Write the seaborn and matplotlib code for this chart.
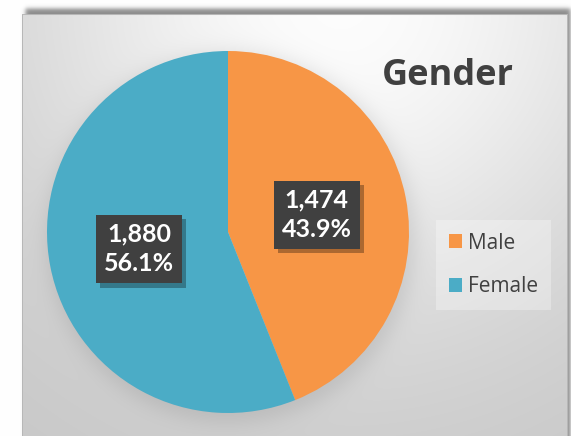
import numpy as np
import pandas as pd
import seaborn as sns
import matplotlib
matplotlib.use("Agg")
import matplotlib.pyplot as plt
import matplotlib.patheffects as pe

# ---- data ----
categories = ["Male", "Female"]
counts = [1474, 1880]
colors = ["#F79646", "#4BACC6"]
title = "Gender"

sns.set_theme(style="white")
plt.rcParams["font.family"] = ["Open Sans", "DejaVu Sans"]

W, H = 571, 436
fig = plt.figure(figsize=(W / 100, H / 100), dpi=100)

# ---- background (chart area with gradient, frame and shadows) ----
yy, xx = np.mgrid[0:H, 0:W].astype(float)
img = np.ones((H, W))
fx0, fy0, fx1 = 22, 15, 567
def soft_rect(x0, y0, x1, y1, w):
    sx = 0.5 * (np.tanh((xx - x0) / w) - np.tanh((xx - x1) / w))
    sy = 0.5 * (np.tanh((yy - y0) / w) - np.tanh((yy - y1) / w))
    return sx * sy
sh = soft_rect(25, 9, 570, 460, 2.5)
img = img * (1 - 0.45 * sh)
d = np.sqrt((xx - 340) ** 2 + (yy - 0) ** 2)
grad = 0.775 + 0.215 * np.exp(-(d / 330.0) ** 2)
cx, cy, R = 228, 234, 181
r = np.sqrt((xx - cx - 2) ** 2 + (yy - cy - 3) ** 2)
halo = 0.5 * (1 - np.tanh((r - R - 4) / 12.0))
grad = grad * (1 - 0.10 * halo)
inside = (xx >= fx0) & (xx <= fx1) & (yy >= fy0)
img = np.where(inside, grad, img)
border = inside & ((np.abs(xx - fx0) < 1) | (np.abs(xx - fx1) < 1) | (np.abs(yy - fy0) < 1))
img = np.where(border, 0.72, img)
rgb = np.dstack([img, img, img])

bg = fig.add_axes([0, 0, 1, 1])
bg.imshow(rgb, extent=(0, W, H, 0), aspect="auto", interpolation="bilinear")
bg.set_xlim(0, W)
bg.set_ylim(H, 0)
bg.axis("off")

# ---- pie ----
pcx, pcy, pr = 228, 232, 181
ax = fig.add_axes([(pcx - pr) / W, (H - pcy - pr) / H, 2 * pr / W, 2 * pr / H])
ax.set_facecolor("none")
wedges, _ = ax.pie(counts, colors=colors, startangle=90, counterclock=False,
                   wedgeprops=dict(linewidth=0))
ax.set_xlim(-1, 1)
ax.set_ylim(-1, 1)

total = sum(counts)
for w, c in zip(wedges, counts):
    ang = np.deg2rad((w.theta1 + w.theta2) / 2)
    x, y = 0.5 * np.cos(ang), 0.5 * np.sin(ang)
    label = f"{c:,}\n{100 * c / total:.1f}%"
    t = ax.text(x, y, label, ha="center", va="center",
                fontsize=18, fontweight="bold", family=["Lato", "DejaVu Sans"],
                color="white", linespacing=1.35,
                bbox=dict(boxstyle="square,pad=0.32", facecolor="#404040",
                          edgecolor="none"))
    t.get_bbox_patch().set_path_effects([
        pe.SimplePatchShadow(offset=(3, -3), shadow_rgbFace="black", alpha=0.3),
        pe.Normal()])

# ---- legend ----
leg = ax.legend(wedges, categories, loc="upper left",
                bbox_to_anchor=(436 / W, 1 - 220 / H), bbox_transform=fig.transFigure,
                borderaxespad=0,
                frameon=True, fancybox=False, facecolor="white", framealpha=0.3,
                edgecolor="none", fontsize=15, handlelength=0.65, handleheight=0.65,
                handletextpad=0.3, labelspacing=1.1, borderpad=0.6)
for t in leg.get_texts():
    t.set_color("#404040")

# ---- title ----
fig.text(448 / W, 1 - 85 / H, title, ha="center", va="baseline", fontsize=26,
         fontweight="bold", color="#404040")

fig.savefig("out.png", dpi=100)
